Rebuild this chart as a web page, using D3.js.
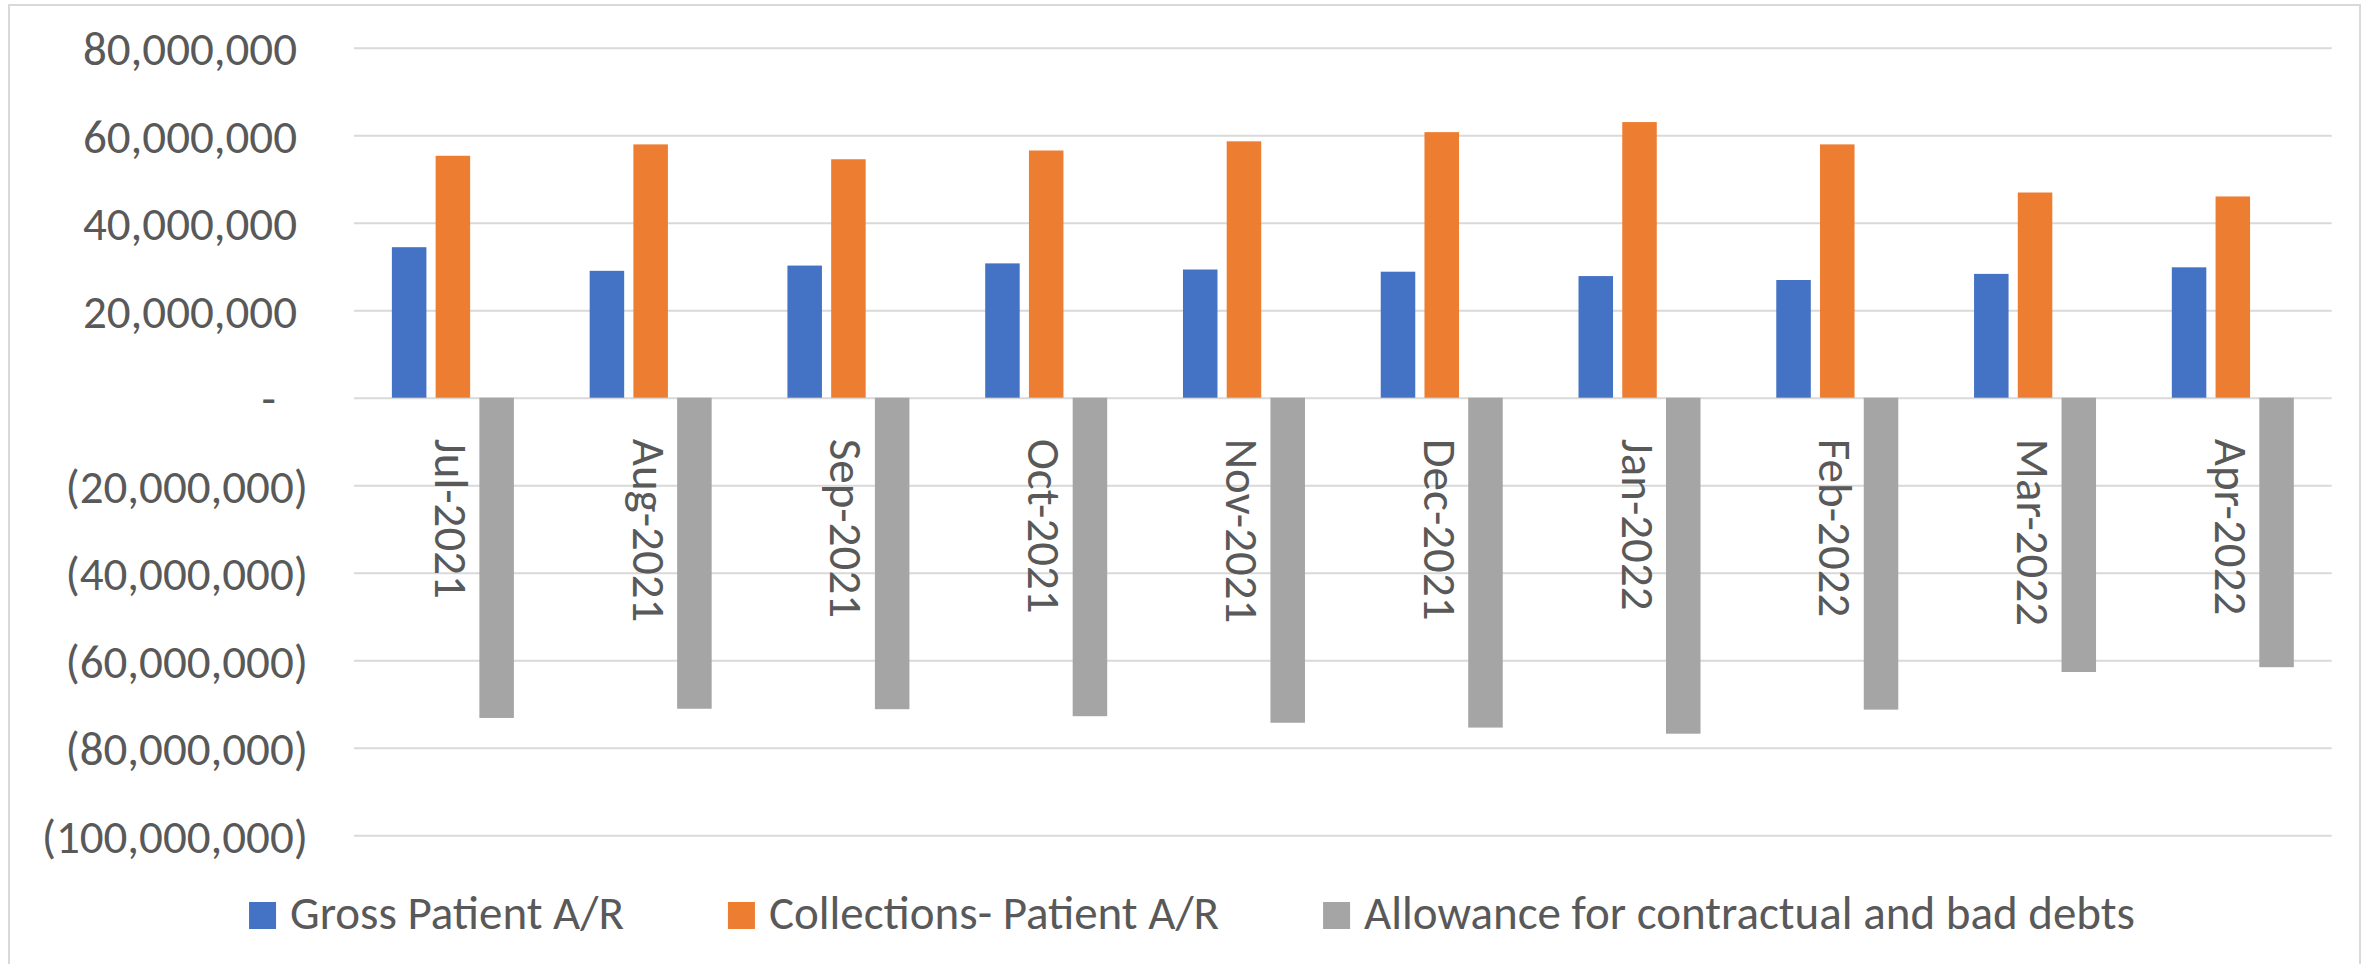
<!DOCTYPE html>
<html>
<head>
<meta charset="utf-8">
<script src="https://cdn.jsdelivr.net/npm/d3@7"></script>
<style>
  html, body { margin: 0; padding: 0; background: #fff; }
  svg text { font-family: Calibri, Carlito, Lato, "Open Sans", sans-serif; fill: #595959; }
</style>
</head>
<body>
<div class="canva"></div>
<script>
// data
const months = ["Jul-2021", "Aug-2021", "Sep-2021", "Oct-2021", "Nov-2021",
                "Dec-2021", "Jan-2022", "Feb-2022", "Mar-2022", "Apr-2022"];
const seriesNames = ["Gross Patient A/R", "Collections- Patient A/R", "Allowance for contractual and bad debts"];
const grossAR = [34400000, 29000000, 30200000, 30700000, 29300000, 28800000, 27800000, 26900000, 28300000, 29800000];
const collectionsAR = [55300000, 57900000, 54500000, 56500000, 58600000, 60700000, 63000000, 57900000, 46900000, 46000000];
const allowance = [-73200000, -71100000, -71200000, -72800000, -74300000, -75400000, -76800000, -71300000, -62700000, -61600000];
const yTicks = [-100000000, -80000000, -60000000, -40000000, -20000000, 0, 20000000, 40000000, 60000000, 80000000];
const seriesColors = ["#4472C4", "#ED7D31", "#A5A5A5"];

const width = 2374, height = 964;
const plot = {left: 354, right: 2331.7, top: 47.7, bottom: 835.2};
const fontSize = 47;

const svg = d3.select(".canva").append("svg")
            .attr("width", width)
            .attr("height", height);

//chart border
svg.append("rect")
   .attr("x", 9).attr("y", 5)
   .attr("width", 2351).attr("height", 975)
   .attr("fill", "none")
   .attr("stroke", "#d9d9d9")
   .attr("stroke-width", 2);

const x0 = d3.scaleBand()
             .domain(months)
             .range([plot.left, plot.right])
             .paddingInner(0).paddingOuter(0);

const x1 = d3.scaleBand()
             .domain(seriesNames)
             .range([-61, 61])
             .paddingInner(0.211);

const y = d3.scaleLinear()
            .domain([-100000000, 80000000])
            .range([plot.bottom, plot.top]);

const color = d3.scaleOrdinal().domain(seriesNames).range(seriesColors);

//gridlines
const grid = svg.append("g")
   .attr("transform", `translate(${plot.left},0)`)
   .call(d3.axisLeft(y).tickValues(yTicks).tickSize(-(plot.right - plot.left)).tickFormat(""));
grid.select(".domain").remove();
grid.selectAll("line").attr("stroke", "#d9d9d9").attr("stroke-width", 2);

//y labels, accounting style
const fmt = d3.format(",");
const yAxis = svg.append("g")
   .attr("transform", `translate(${plot.left},0)`)
   .call(d3.axisLeft(y).tickValues(yTicks).tickSize(0)
        .tickFormat(d => d === 0 ? "-" : d < 0 ? "(" + fmt(-d) + ")" : fmt(d)));
yAxis.select(".domain").remove();
yAxis.selectAll("text")
   .attr("font-size", fontSize)
   .attr("fill", "#595959")
   .attr("dy", "0.36em")
   .attr("x", d => d === 0 ? -78 : d < 0 ? -46 : -57);

//bars
const rows = months.map((m, i) => ({
  month: m,
  values: [grossAR[i], collectionsAR[i], allowance[i]].map((v, j) => ({series: seriesNames[j], value: v}))
}));

const groups = svg.append("g").selectAll("g")
   .data(rows)
   .enter().append("g")
   .attr("transform", d => `translate(${x0(d.month) + x0.bandwidth() / 2},0)`);

groups.selectAll("rect")
   .data(d => d.values)
   .enter().append("rect")
   .attr("x", d => x1(d.series))
   .attr("width", x1.bandwidth())
   .attr("y", d => y(Math.max(0, d.value)))
   .attr("height", d => Math.abs(y(d.value) - y(0)))
   .attr("fill", d => color(d.series));

//category labels, rotated
const xAxis = svg.append("g")
   .attr("transform", `translate(0,${y(0)})`)
   .call(d3.axisBottom(x0).tickSize(0));
xAxis.select(".domain").remove();
xAxis.selectAll("text")
   .attr("font-size", fontSize)
   .attr("fill", "#595959")
   .attr("transform", "rotate(90)")
   .attr("text-anchor", "start")
   .attr("x", 41)
   .attr("y", 18)
   .attr("dy", 0);

//legend
const legend = svg.append("g");
const items = legend.selectAll("g")
   .data(seriesNames)
   .enter().append("g");
items.append("rect")
   .attr("width", 27).attr("height", 27)
   .attr("y", 902)
   .attr("fill", d => color(d));
items.append("text")
   .attr("font-size", fontSize)
   .attr("x", 41)
   .attr("y", 929)
   .text(d => d);

let widths = [];
items.each(function() { widths.push(41 + this.querySelector("text").getComputedTextLength()); });
const gap = 104;
const total = d3.sum(widths) + gap * (widths.length - 1);
let start = 1192 - total / 2;
items.attr("transform", function(d, i) {
  const tx = start;
  start += widths[i] + gap;
  return `translate(${tx},0)`;
});
</script>
</body>
</html>
